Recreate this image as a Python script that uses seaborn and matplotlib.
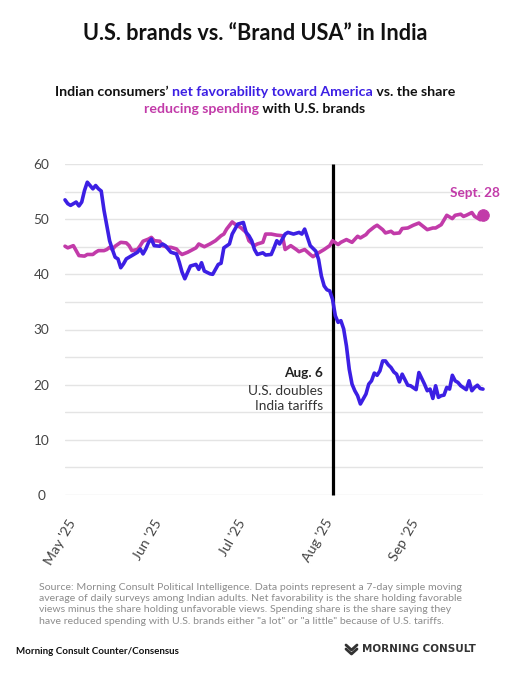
import numpy as np
import pandas as pd
import matplotlib
matplotlib.use("Agg")
import matplotlib.pyplot as plt
import matplotlib.transforms as mtransforms
from matplotlib.lines import Line2D
import seaborn as sns

# ---------------- data ----------------
start_date = "2025-05-01"
end_date = "2025-09-28"

fav_days = [0, 1, 2, 4, 5, 6, 7, 8, 10, 11, 12, 13, 14, 16, 17, 18, 19, 20, 21, 22,
            23, 24, 26, 27, 28, 29, 30, 31, 32, 34, 35, 36, 37, 38, 40, 41, 42, 43, 45, 47,
            48, 49, 50, 52, 53, 55, 56, 57, 59, 60, 62, 64, 65, 66, 67, 68, 69, 71, 72, 74,
            75, 76, 77, 79, 80, 82, 84, 85, 86, 87, 88, 90, 91, 92, 93, 94, 95, 96, 97, 98,
            99, 100, 101, 102, 103, 104, 105, 106, 108, 109, 110, 111, 112, 113, 114, 115, 116, 117, 118, 119,
            120, 121, 122, 123, 124, 126, 127, 129, 130, 131, 132, 133, 134, 135, 136, 137, 138, 139, 140, 141,
            142, 144, 145, 146, 147, 148, 149, 150]
fav_values = [53.5, 52.8, 52.5, 53.1, 52.4, 53.1, 55.2, 56.7, 55.5, 56.1, 55.5, 55.1, 51.6, 46.1, 44.5, 43.1, 42.8, 41.2, 41.9, 42.8,
              43.1, 43.4, 44.0, 44.6, 43.7, 44.6, 45.8, 46.4, 45.2, 45.1, 45.5, 45.2, 44.6, 44.0, 43.7, 42.2, 40.4, 39.2, 41.5, 41.8,
              40.9, 42.1, 40.6, 40.1, 40.0, 41.8, 42.0, 44.8, 45.5, 47.3, 49.1, 49.4, 47.6, 47.0, 46.1, 44.5, 43.6, 43.9, 43.5, 43.6,
              44.8, 46.1, 45.5, 47.3, 47.6, 47.3, 47.6, 47.3, 48.2, 46.7, 45.2, 44.2, 42.7, 39.7, 37.9, 37.2, 37.0, 35.5, 32.5, 31.3,
              31.6, 30.1, 27.0, 22.8, 20.1, 18.9, 18.0, 16.5, 18.3, 20.1, 20.7, 22.1, 21.7, 22.5, 24.3, 24.3, 23.6, 23.1, 22.3, 21.9,
              20.5, 21.9, 20.9, 19.9, 19.8, 19.1, 22.2, 20.1, 18.9, 19.2, 17.5, 19.8, 17.7, 18.0, 18.1, 19.5, 19.2, 21.7, 20.7, 20.4,
              19.8, 19.1, 20.7, 18.9, 19.5, 19.9, 19.3, 19.2]

spend_days = [0, 1, 3, 4, 5, 7, 8, 10, 11, 12, 14, 15, 16, 17, 18, 20, 22, 23, 24, 26,
              27, 28, 30, 31, 32, 34, 35, 37, 38, 40, 41, 42, 44, 47, 48, 50, 52, 54, 56, 57,
              58, 60, 61, 63, 65, 66, 68, 69, 71, 72, 74, 76, 78, 79, 81, 83, 84, 86, 88, 89,
              91, 93, 95, 96, 98, 99, 101, 103, 105, 106, 108, 109, 111, 112, 114, 115, 117, 118, 120, 121,
              123, 125, 127, 128, 130, 132, 133, 135, 137, 139, 140, 142, 143, 144, 146, 147, 149, 150]
spend_values = [45.1, 44.8, 45.2, 44.3, 43.4, 43.3, 43.6, 43.6, 44.0, 44.3, 44.3, 44.5, 44.9, 44.5, 45.1, 45.8, 45.7, 45.2, 44.3, 44.5,
                45.2, 46.0, 46.4, 46.7, 46.1, 46.0, 45.2, 44.9, 44.9, 44.6, 44.0, 43.6, 44.0, 44.8, 45.5, 45.0, 45.5, 46.1, 47.0, 47.3,
                48.2, 49.5, 49.1, 48.5, 47.6, 46.1, 45.2, 45.5, 45.8, 47.3, 47.3, 47.1, 47.0, 44.5, 45.2, 44.5, 44.1, 44.5, 43.6, 43.2,
                43.9, 44.5, 45.2, 46.1, 45.4, 45.8, 46.3, 45.8, 46.9, 46.6, 47.2, 47.8, 48.6, 48.9, 48.1, 47.5, 47.8, 47.4, 47.5, 48.3,
                48.4, 48.9, 49.3, 48.9, 48.1, 48.4, 48.4, 49.0, 50.7, 50.1, 50.7, 50.9, 50.5, 50.7, 51.2, 50.5, 49.9, 50.7]

month_ticks = ["2025-05-01", "2025-06-01", "2025-07-01", "2025-08-01", "2025-09-01"]
month_labels = ["May '25", "Jun '25", "Jul '25", "Aug '25", "Sep '25"]
y_ticks = [0, 5, 10, 15, 20, 25, 30, 35, 40, 45, 50, 55, 60]

event_date = "2025-08-05"
event_title = "Aug. 6"
event_text = "U.S. doubles\nIndia tariffs"
end_label = "Sept. 28"

title = "U.S. brands vs. \u201cBrand USA\u201d in India"
sub_line1 = [("Indian consumers\u2019 ", "k"), ("net favorability toward America", "b"), (" vs. the share", "k")]
sub_line2 = [("reducing spending", "m"), (" with U.S. brands", "k")]
source_lines = [
    "Source: Morning Consult Political Intelligence. Data points represent a 7-day simple moving",
    "average of daily surveys among Indian adults. Net favorability is the share holding favorable",
    "views minus the share holding unfavorable views. Spending share is the share saying they",
    "have reduced spending with U.S. brands either \"a lot\" or \"a little\" because of U.S. tariffs.",
]
footer_left = "Morning Consult Counter/Consensus"
footer_right = "MORNING CONSULT"

# ---------------- style ----------------
BLUE = "#3C1FE4"
MAG = "#C23BA9"
colors = {"k": "#111111", "b": BLUE, "m": MAG}

sns.set_theme(style="white")
plt.rcParams["font.family"] = ["Lato", "DejaVu Sans"]

W, H = 510, 680
fig = plt.figure(figsize=(W / 100, H / 100), dpi=100)
fig.patch.set_facecolor("white")

def fx(px):
    return px / W

def fy(py):
    return 1 - py / H

ax = fig.add_axes([fx(65), fy(495), fx(483) - fx(65), fy(164) - fy(495)])

t0 = pd.to_datetime(start_date)
fav_df = pd.DataFrame({"date": t0 + pd.to_timedelta(fav_days, unit="D"), "value": fav_values})
spend_df = pd.DataFrame({"date": t0 + pd.to_timedelta(spend_days, unit="D"), "value": spend_values})

ax.set_yticks(y_ticks)
ax.set_yticklabels([str(v) if v % 10 == 0 else "" for v in y_ticks])
ax.grid(axis="y", color="#e4e4e4", linewidth=1.0)
ax.grid(axis="x", visible=False)
ax.set_axisbelow(True)

ev = pd.to_datetime(event_date)
ax.plot([ev, ev], [0, 60], color="black", linewidth=2.3, solid_capstyle="butt", zorder=2, clip_on=False)

sns.lineplot(data=spend_df, x="date", y="value", ax=ax, color=MAG, linewidth=2.6,
             estimator=None, solid_joinstyle="round", solid_capstyle="round", zorder=3, clip_on=False)
sns.lineplot(data=fav_df, x="date", y="value", ax=ax, color=BLUE, linewidth=2.6,
             estimator=None, solid_joinstyle="round", solid_capstyle="round", zorder=4, clip_on=False)
last = spend_df.iloc[[-1]]
sns.scatterplot(data=last, x="date", y="value", ax=ax, color=MAG, s=70, edgecolor=MAG, zorder=5, clip_on=False)

ax.set_xlim(t0, pd.to_datetime(end_date))
ax.set_ylim(0, 60)
ax.set_xlabel("")
ax.set_ylabel("")
for s in ax.spines.values():
    s.set_visible(False)

ax.set_xticks(pd.to_datetime(month_ticks))
ax.set_xticklabels(month_labels, rotation=60, ha="right", fontsize=10.2, color="#444444")
ax.tick_params(axis="x", length=0, pad=16)
ax.tick_params(axis="y", length=0, pad=17, labelsize=9.8, labelcolor="#444444")
for lab in ax.get_yticklabels():
    lab.set_horizontalalignment("center")
off = mtransforms.ScaledTranslation(13 / 100, 0, fig.dpi_scale_trans)
for lab in ax.get_xticklabels():
    lab.set_transform(lab.get_transform() + off)

# annotations
ax.annotate(event_title, xy=(ev, 22.2), xytext=(-7, 0), textcoords="offset points",
            ha="right", va="center", fontsize=9.8, fontweight="bold", color="#222222")
ax.annotate(event_text, xy=(ev, 17.55), xytext=(-7, 0), textcoords="offset points",
            ha="right", va="center", fontsize=9.8, color="#333333", linespacing=1.3)
ax.annotate(end_label, xy=(last["date"].iloc[0], 54.8), xytext=(12.5, 0), textcoords="offset points",
            ha="right", va="center", fontsize=9.8, fontweight="bold", color=MAG)

# title
fig.text(0.5, fy(33), title, ha="center", va="center", fontsize=15.6, fontweight="bold", color="#111111")

# subtitle (multi-colour lines, centred)
renderer = fig.canvas.get_renderer()

def colour_line(parts, ypx):
    texts = [fig.text(0, fy(ypx), s, ha="left", va="center", fontsize=10.2, fontweight="bold",
                      color=colors[c]) for s, c in parts]
    widths = [t.get_window_extent(renderer=renderer).width for t in texts]
    total = sum(widths)
    x = (W - total) / 2
    for t, w in zip(texts, widths):
        t.set_x(fx(x))
        x += w

colour_line(sub_line1, 92)
colour_line(sub_line2, 109)

# source
for i, line in enumerate(source_lines):
    fig.text(fx(39), fy(587 + i * 11.4), line, ha="left", va="center", fontsize=7.55, color="#8c8c8c")

fig.text(fx(16), fy(652), footer_left, ha="left", va="center", fontsize=7.0, fontweight="bold", color="#111111")
fig.text(fx(362), fy(649), footer_right, ha="left", va="center", fontsize=7.5, fontweight="bold",
         color="#333333", family="DejaVu Sans")
# logo mark
for dy in (0, 4):
    fig.add_artist(Line2D([fx(346), fx(351.5), fx(357)], [fy(645 + dy), fy(650 + dy), fy(645 + dy)],
                          color="#333333", linewidth=2.0, transform=fig.transFigure))

fig.savefig("out.png", dpi=100, facecolor="white")
